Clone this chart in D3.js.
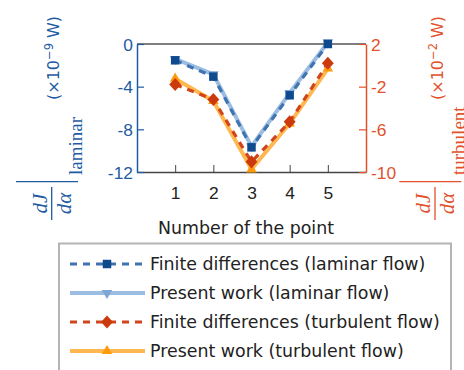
<!DOCTYPE html>
<html>
<head>
<meta charset="utf-8">
<script src="https://cdn.jsdelivr.net/npm/d3@7"></script>
<style>
  html, body { margin: 0; padding: 0; background: #fff; }
  svg { display: block; font-family: "DejaVu Sans", "Liberation Sans", sans-serif; }
</style>
</head>
<body>
<svg id="chart" width="464" height="370"></svg>
<script>
// Sensitivity dJ/dα at five sample points, laminar (left axis) and turbulent (right axis)
const points = [1, 2, 3, 4, 5];
const laminarFD      = [-1.53, -3.06, -9.69, -4.81, 0.0];   // ×10^-9 W
const laminarPresent = [-1.40, -2.85, -9.60, -4.60, 0.15];  // ×10^-9 W
const turbulentFD      = [-1.80, -3.20, -9.05, -5.30, 0.19]; // ×10^-2 W
const turbulentPresent = [-1.25, -3.35, -9.75, -5.45, -0.30]; // ×10^-2 W

const xTicks = [1, 2, 3, 4, 5];
const yLeftTicks = [0, -4, -8, -12];
const yRightTicks = [2, -2, -6, -10];
const legendLabels = [
  "Finite differences (laminar flow)",
  "Present work (laminar flow)",
  "Finite differences (turbulent flow)",
  "Present work (turbulent flow)"
];

const BLUE_AXIS = "#1f5ba3";
const RED_AXIS = "#e2512c";
const FS = 17.4;

const svg = d3.select("#chart");

const x = d3.scaleLinear().domain([0, 6]).range([137, 366]);
const yL = d3.scaleLinear().domain([-12, 0]).range([172, 44]);
const yR = d3.scaleLinear().domain([-10, 2]).range([172, 44]);

// box: top line
svg.append("line").attr("x1", x(0)).attr("x2", x(6)).attr("y1", yL(0)).attr("y2", yL(0))
  .attr("stroke", "#555").attr("stroke-width", 1.5);

// bottom axis with inward ticks
const gx = svg.append("g").attr("transform", `translate(0,${yL(-12)})`)
  .call(d3.axisBottom(x).tickValues(xTicks).tickSizeInner(-7).tickSizeOuter(0).tickPadding(0).tickFormat(d3.format("d")));
gx.select(".domain").attr("stroke", "#444").attr("stroke-width", 1.5);
gx.selectAll(".tick line").attr("stroke", "#444").attr("stroke-width", 1);
gx.selectAll(".tick text").remove();
gx.selectAll(".tick").append("text")
  .attr("y", 27).attr("text-anchor", "middle")
  .attr("font-size", FS).attr("fill", "#222")
  .text(d => d);

// left axis (laminar), ticks inward
const gl = svg.append("g").attr("transform", `translate(${x(0)},0)`)
  .call(d3.axisLeft(yL).tickValues(yLeftTicks).tickSizeInner(-7).tickSizeOuter(0).tickFormat(d3.format("d")));
gl.select(".domain").attr("stroke", BLUE_AXIS).attr("stroke-width", 1.5);
gl.selectAll(".tick line").attr("stroke", BLUE_AXIS).attr("stroke-width", 1.2);
gl.selectAll(".tick text").remove();
gl.selectAll(".tick").append("text")
  .attr("x", -4).attr("dy", "0.36em").attr("text-anchor", "end")
  .attr("font-size", FS).attr("fill", BLUE_AXIS)
  .text(d => d);

// right axis (turbulent), ticks inward
const gr = svg.append("g").attr("transform", `translate(${x(6)},0)`)
  .call(d3.axisRight(yR).tickValues(yRightTicks).tickSizeInner(-7).tickSizeOuter(0).tickFormat(d3.format("d")));
gr.select(".domain").attr("stroke", RED_AXIS).attr("stroke-width", 1.5);
gr.selectAll(".tick line").attr("stroke", RED_AXIS).attr("stroke-width", 1.2);
gr.selectAll(".tick text").remove();
gr.selectAll(".tick").append("text")
  .attr("x", 5).attr("dy", "0.36em").attr("text-anchor", "start")
  .attr("font-size", FS).attr("fill", RED_AXIS)
  .text(d => d);

// x axis title
svg.append("text").attr("x", 246).attr("y", 234).attr("text-anchor", "middle")
  .attr("font-size", FS).attr("fill", "#222").text("Number of the point");

// series styles
const series = [
  { vals: laminarPresent, y: yL, line: "#9cbde2", width: 4, dash: null, marker: "triDown", mcolor: "#7ea7d8" },
  { vals: laminarFD, y: yL, line: "#3f74b0", width: 3.2, dash: "7,6", marker: "square", mcolor: "#0f4a8e" },
  { vals: turbulentPresent, y: yR, line: "#ffb84f", width: 4, dash: null, marker: "triUp", mcolor: "#ff9a0a" },
  { vals: turbulentFD, y: yR, line: "#d2451c", width: 3.2, dash: "7,6", marker: "diamond", mcolor: "#cc3a0c" }
];

const symbols = {
  square: d3.symbol().type(d3.symbolSquare).size(72),
  diamond: d3.symbol().type(d3.symbolDiamond2).size(90),
  triUp: d3.symbol().type(d3.symbolTriangle2).size(80),
  triDown: d3.symbol().type(d3.symbolTriangle2).size(80)
};

function drawMarker(g, kind, cx, cy, color) {
  let t = `translate(${cx},${cy})`;
  if (kind === "triDown") t += " rotate(180)";
  if (kind === "diamond") t += " scale(1,1.1)";
  g.append("path").attr("d", symbols[kind]()).attr("transform", t).attr("fill", color);
}

const plot = svg.append("g");
// solid "present work" lines underneath, dashed finite-difference lines on top
const order = [0, 2, 1, 3];
order.forEach(i => {
  const s = series[i];
  const line = d3.line().x((d, k) => x(points[k])).y(d => s.y(d));
  plot.append("path").datum(s.vals).attr("d", line)
    .attr("fill", "none").attr("stroke", s.line).attr("stroke-width", s.width)
    .attr("stroke-dasharray", s.dash).attr("stroke-linejoin", "round");
});
order.forEach(i => {
  const s = series[i];
  s.vals.forEach((v, k) => drawMarker(plot, s.marker, x(points[k]), s.y(v), s.mcolor));
});

// rotated y-axis titles: dJ/dα evaluated, with unit
function axisTitle(ox, oy, color, sub, unit) {
  const g = svg.append("g").attr("transform", `translate(${ox},${oy}) rotate(-90)`).attr("fill", color);
  const serif = "'Liberation Serif', 'DejaVu Serif', serif";
  g.append("line").attr("x1", 0).attr("x2", 33).attr("y1", 0).attr("y2", 0)
    .attr("stroke", color).attr("stroke-width", 1.3);
  g.append("text").attr("x", 16.5).attr("y", -5).attr("text-anchor", "middle")
    .attr("font-family", serif).attr("font-style", "italic")
    .attr("font-size", 21).text("dJ");
  g.append("text").attr("x", 16.5).attr("y", 19).attr("text-anchor", "middle")
    .attr("font-family", serif).attr("font-style", "italic")
    .attr("font-size", 21).text("dα");
  g.append("line").attr("x1", 38.3).attr("x2", 38.3).attr("y1", -35.7).attr("y2", 26.3)
    .attr("stroke", color).attr("stroke-width", 1.3);
  g.append("text").attr("x", 45).attr("y", 30)
    .attr("font-family", serif)
    .attr("font-size", 19).text(sub);
  const u = g.append("text").attr("x", 120).attr("y", 7.5).attr("font-size", 16);
  u.append("tspan").text("(×10");
  u.append("tspan").attr("dy", -6).attr("font-size", 11.5).text(unit);
  u.append("tspan").attr("dy", 6).text(" W)");
}
axisTitle(51.7, 220, BLUE_AXIS, "laminar", "−9");
axisTitle(435, 220, RED_AXIS, "turbulent", "−2");

// legend
const lg = svg.append("g");
lg.append("rect").attr("x", 59).attr("y", 243.5).attr("width", 392).attr("height", 140)
  .attr("fill", "#fff").attr("stroke", "#b4b4b4").attr("stroke-width", 2);
const legendOrder = [1, 0, 3, 2];
const rowY = [264, 293, 322, 351];
legendOrder.forEach((si, r) => {
  const s = series[si];
  const yy = rowY[r];
  lg.append("line").attr("x1", 70).attr("x2", 145).attr("y1", yy).attr("y2", yy)
    .attr("stroke", s.line).attr("stroke-width", s.width).attr("stroke-dasharray", s.dash);
  drawMarker(lg, s.marker, 107, yy, s.mcolor);
  lg.append("text").attr("x", 150).attr("y", yy).attr("dy", "0.36em")
    .attr("font-size", FS).attr("fill", "#222").text(legendLabels[r]);
});
</script>
</body>
</html>
